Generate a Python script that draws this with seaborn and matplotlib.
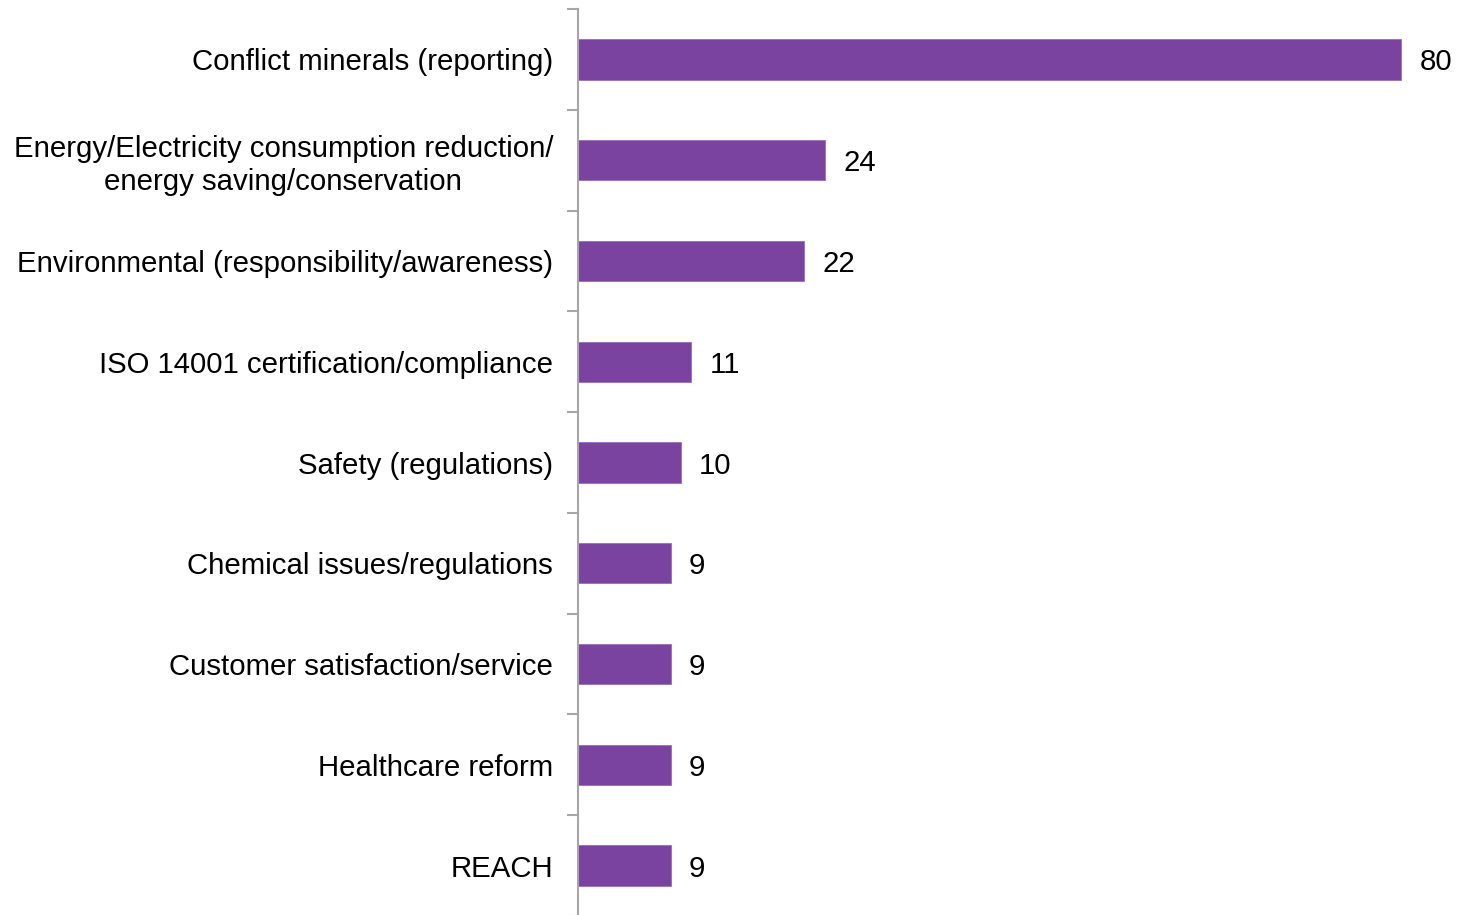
import matplotlib
matplotlib.use("Agg")
import matplotlib.pyplot as plt
import seaborn as sns
import pandas as pd

categories = [
    "Conflict minerals (reporting)",
    "Energy/Electricity consumption reduction/\nenergy saving/conservation",
    "Environmental (responsibility/awareness)",
    "ISO 14001 certification/compliance",
    "Safety (regulations)",
    "Chemical issues/regulations",
    "Customer satisfaction/service",
    "Healthcare reform",
    "REACH",
]
values = [80, 24, 22, 11, 10, 9, 9, 9, 9]

sns.set_theme(style="white")
plt.rcParams["font.family"] = ["Liberation Sans", "DejaVu Sans"]

df = pd.DataFrame({"cat": categories, "val": values})

fig = plt.figure(figsize=(14.59, 9.15), dpi=100)
ax = fig.add_axes([578 / 1459, -1 / 915, 1 - 578 / 1459, 1 - 9 / 915 + 1 / 915])
sns.barplot(data=df, x="val", y="cat", color="#7B43A0", width=0.4, ax=ax,
            saturation=1, edgecolor="#9a6cbd", linewidth=0.6)

ax.set_xlim(0, 85.6)
ax.set_ylim(len(categories) - 0.5, -0.5)
for s in ["top", "right", "bottom"]:
    ax.spines[s].set_visible(False)
ax.spines["left"].set_color("#A6A6A6")
ax.spines["left"].set_linewidth(1.5)
ax.set_xticks([])
ax.set_xlabel("")
ax.set_ylabel("")

n = len(categories)
ax.set_yticks([i - 0.5 for i in range(n + 1)])
ax.set_yticklabels([""] * (n + 1))
ax.tick_params(axis="y", which="major", length=8, width=1.5, color="#A6A6A6", left=True, direction="out")
ax.set_yticks(list(range(n)), minor=True)
ax.set_yticklabels(categories, minor=True, fontsize=21.2, color="black", multialignment="center")
for t in ax.get_yticklabels(minor=True):
    t.set_linespacing(1.22)
ax.tick_params(axis="y", which="minor", length=0, pad=18)

for c in ax.containers:
    anns = ax.bar_label(c, labels=[str(v) for v in values], padding=13, fontsize=21.2,
                        color="black")
    for a in anns:
        a.set_va("center_baseline")

fig.savefig("out.png", dpi=100)
